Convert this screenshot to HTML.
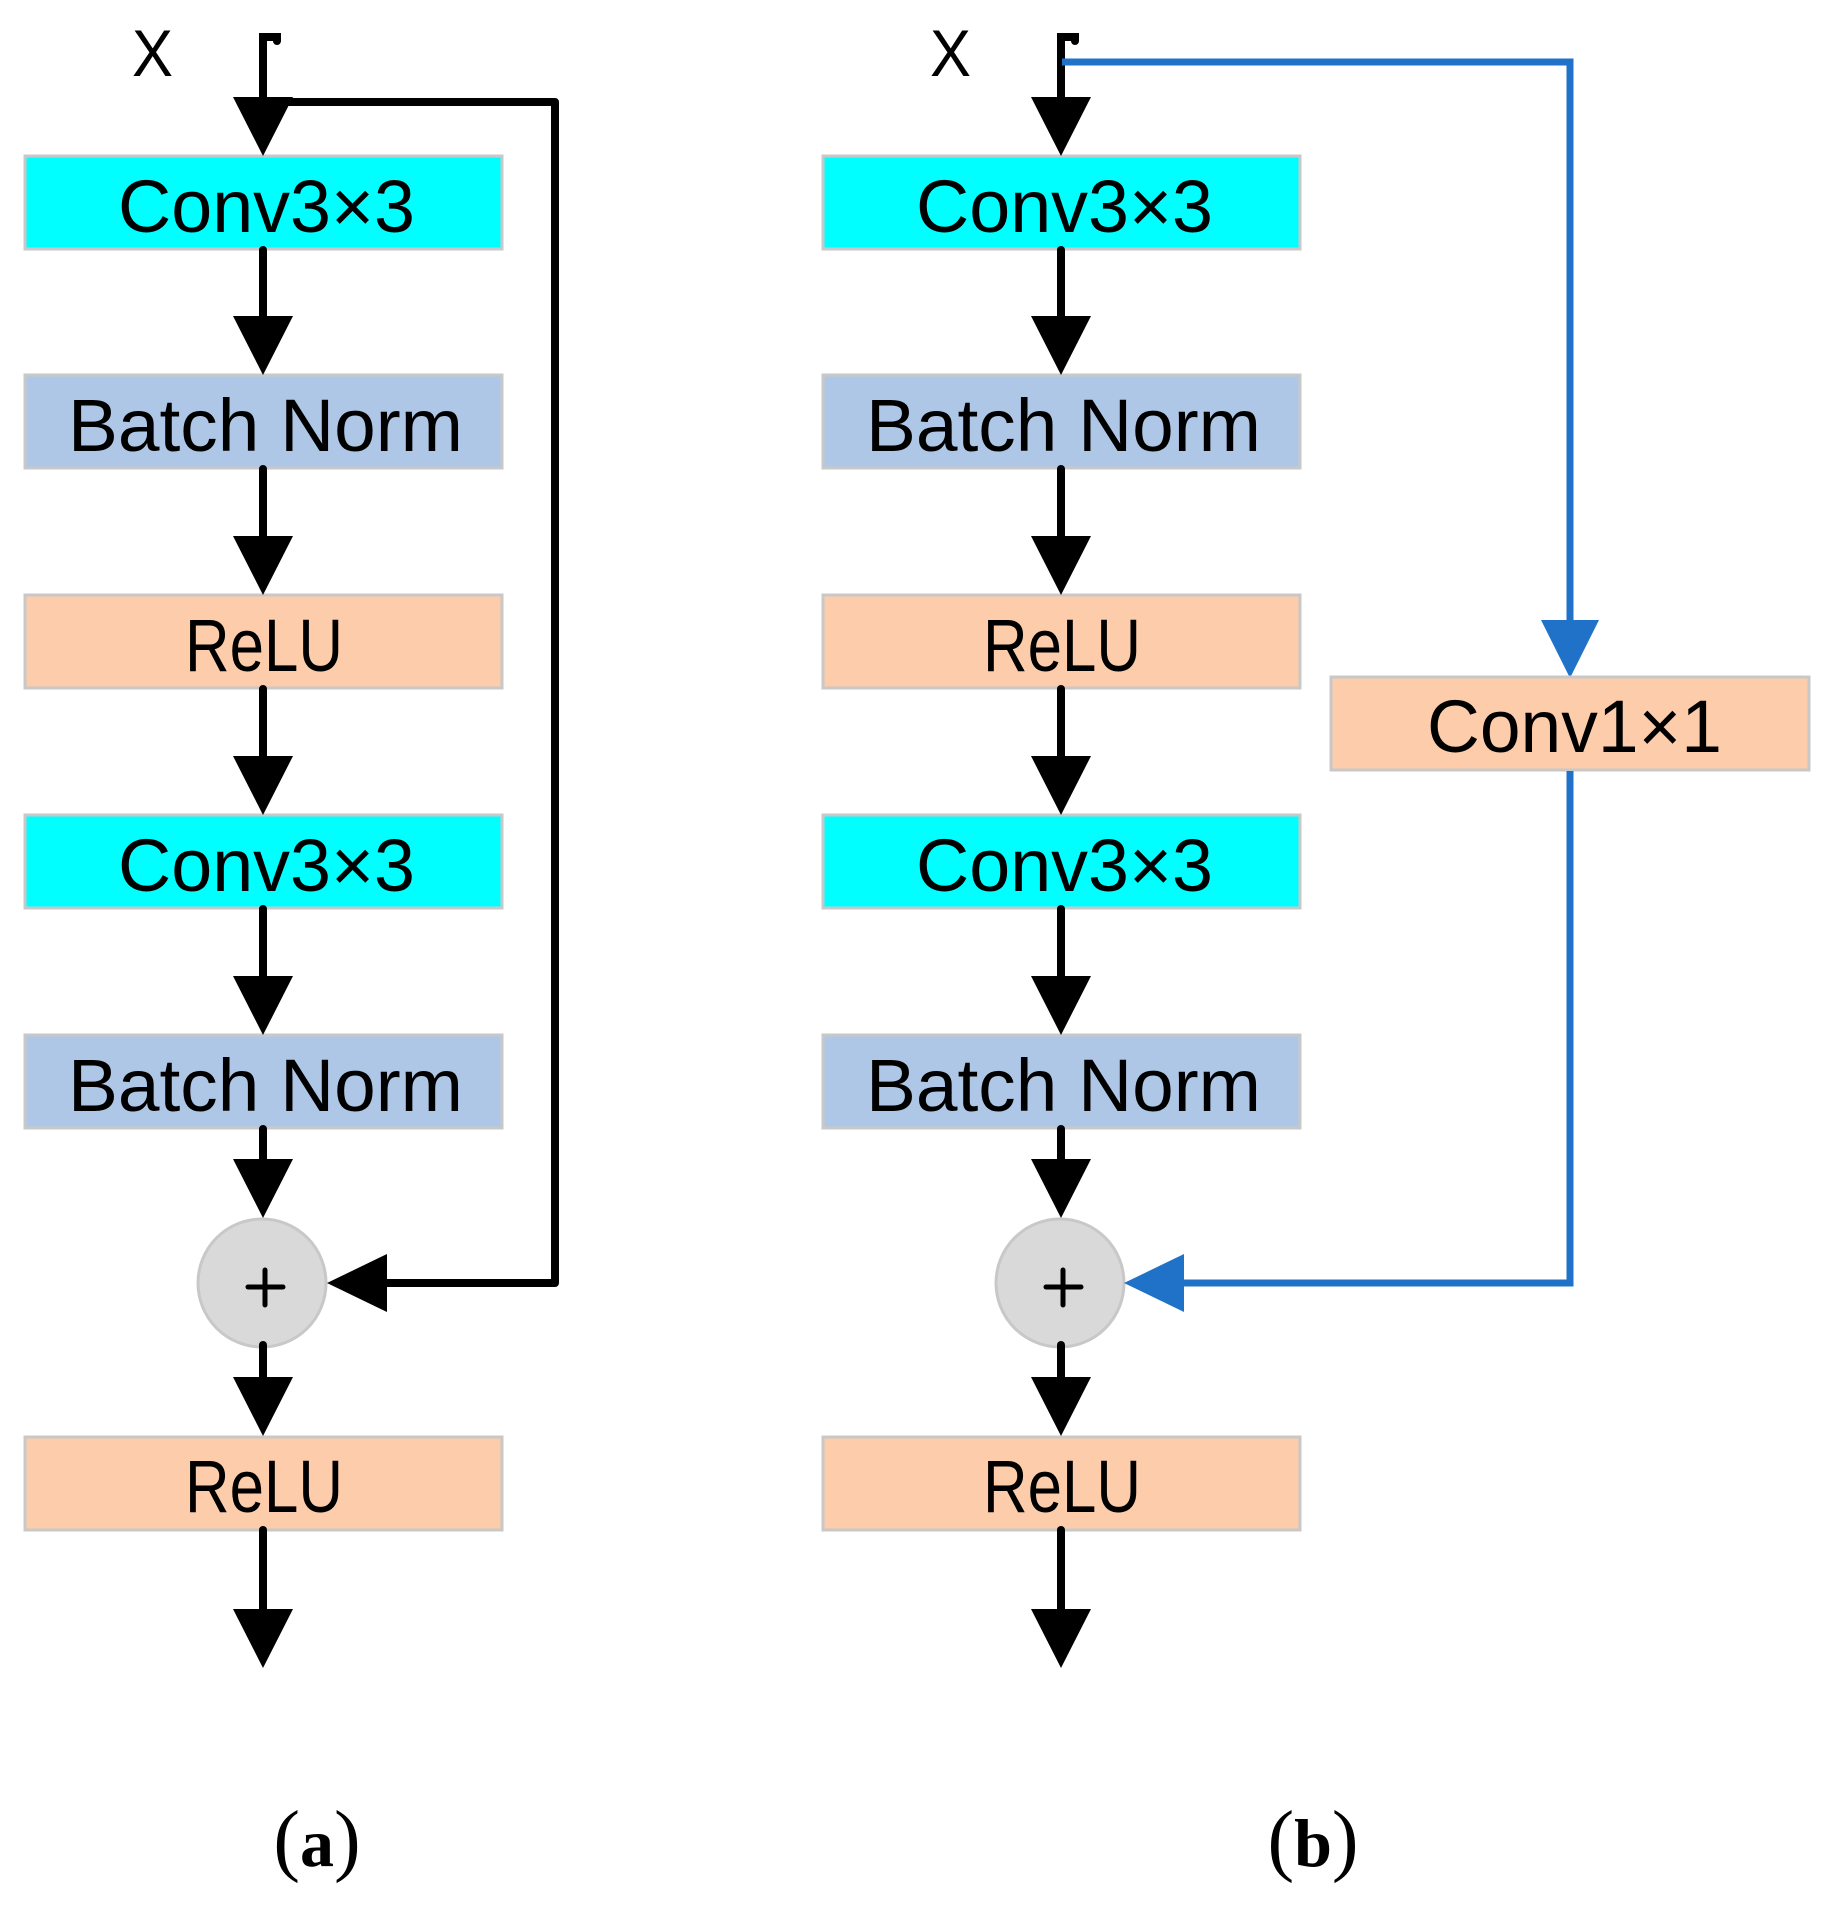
<!DOCTYPE html>
<html><head><meta charset="utf-8"><style>
html,body{margin:0;padding:0;background:#fff;}
svg{display:block;}
text{font-family:"Liberation Sans",sans-serif;fill:#000;}
</style></head><body>
<svg width="1829" height="1907" viewBox="0 0 1829 1907" xmlns="http://www.w3.org/2000/svg">
<defs>
<g id="col">
  <rect x="25" y="156" width="477" height="93" fill="#00ffff" stroke="#c8c8c8" stroke-width="3"/>
  <rect x="25" y="375" width="477" height="93" fill="#afc7e7" stroke="#c8c8c8" stroke-width="3"/>
  <rect x="25" y="595" width="477" height="93" fill="#fdcdab" stroke="#c8c8c8" stroke-width="3"/>
  <rect x="25" y="815" width="477" height="93" fill="#00ffff" stroke="#c8c8c8" stroke-width="3"/>
  <rect x="25" y="1035" width="477" height="93" fill="#afc7e7" stroke="#c8c8c8" stroke-width="3"/>
  <rect x="25" y="1437" width="477" height="93" fill="#fdcdab" stroke="#c8c8c8" stroke-width="3"/>
  <circle cx="262" cy="1283" r="64" fill="#d9d9d9" stroke="#c8c8c8" stroke-width="3"/>
  <line x1="248" y1="1287" x2="283" y2="1287" stroke="#000" stroke-width="5" stroke-linecap="round"/>
  <line x1="265" y1="1270" x2="265" y2="1305" stroke="#000" stroke-width="5" stroke-linecap="round"/>
  <text x="118" y="232" font-size="74" textLength="297" lengthAdjust="spacingAndGlyphs">Conv3×3</text>
  <text x="68" y="451" font-size="74" textLength="395" lengthAdjust="spacingAndGlyphs">Batch Norm</text>
  <text x="185" y="671" font-size="74" textLength="158" lengthAdjust="spacingAndGlyphs">ReLU</text>
  <text x="118" y="891" font-size="74" textLength="297" lengthAdjust="spacingAndGlyphs">Conv3×3</text>
  <text x="68" y="1111" font-size="74" textLength="395" lengthAdjust="spacingAndGlyphs">Batch Norm</text>
  <text x="185" y="1512" font-size="74" textLength="158" lengthAdjust="spacingAndGlyphs">ReLU</text>
  <text x="132" y="76" font-size="66" textLength="41" lengthAdjust="spacingAndGlyphs">X</text>
  <g stroke="#000" stroke-width="8" stroke-linecap="round" fill="none">
    <path d="M277 41 L277 37 L263 37 L263 100"/>
    <line x1="263" y1="250" x2="263" y2="318"/>
    <line x1="263" y1="469" x2="263" y2="537"/>
    <line x1="263" y1="689" x2="263" y2="757"/>
    <line x1="263" y1="909" x2="263" y2="977"/>
    <line x1="263" y1="1129" x2="263" y2="1160"/>
    <line x1="263" y1="1345" x2="263" y2="1378"/>
    <line x1="263" y1="1530" x2="263" y2="1610"/>
  </g>
  <g fill="#000">
    <polygon points="233,97 293,97 263,156"/>
    <polygon points="233,316 293,316 263,375"/>
    <polygon points="233,536 293,536 263,595"/>
    <polygon points="233,756 293,756 263,815"/>
    <polygon points="233,976 293,976 263,1035"/>
    <polygon points="233,1159 293,1159 263,1218"/>
    <polygon points="233,1377 293,1377 263,1436"/>
    <polygon points="233,1609 293,1609 263,1668"/>
  </g>
</g>
</defs>
<use href="#col"/>
<use href="#col" transform="translate(798,0)"/>
<path d="M285 102 L555 102 L555 1283 L385 1283" stroke="#000" stroke-width="8" fill="none" stroke-linejoin="round"/>
<polygon points="327,1283 387,1254 387,1312" fill="#000"/>
<path d="M1062 62 L1570 62 L1570 625" stroke="#1f72c8" stroke-width="7" fill="none"/>
<polygon points="1541,620 1599,620 1570,678" fill="#1f72c8"/>
<rect x="1331" y="677" width="478" height="93" fill="#fdcdab" stroke="#c8c8c8" stroke-width="3"/>
<text x="1427" y="752" font-size="74" textLength="295" lengthAdjust="spacingAndGlyphs">Conv1×1</text>
<path d="M1570 771 L1570 1283 L1180 1283" stroke="#1f72c8" stroke-width="7" fill="none"/>
<polygon points="1124,1283 1184,1254 1184,1312" fill="#1f72c8"/>
<text x="317" y="1866" text-anchor="middle" style="font-family:'Liberation Serif',serif"><tspan font-size="80">(</tspan><tspan font-size="68" font-weight="bold">a</tspan><tspan font-size="80">)</tspan></text>
<text x="1313" y="1866" text-anchor="middle" style="font-family:'Liberation Serif',serif"><tspan font-size="80">(</tspan><tspan font-size="68" font-weight="bold">b</tspan><tspan font-size="80">)</tspan></text>
</svg>
</body></html>
